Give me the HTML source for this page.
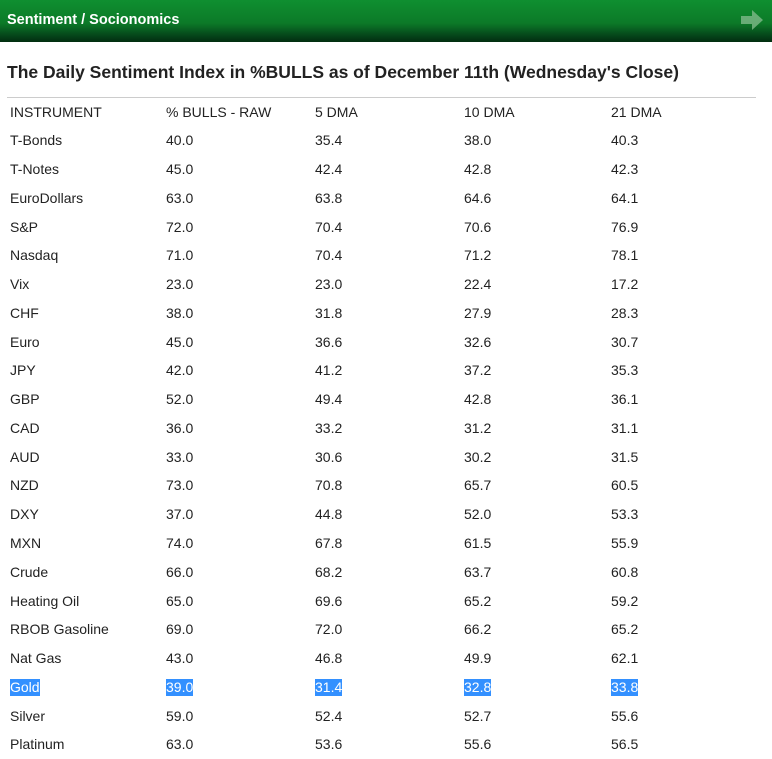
<!DOCTYPE html>
<html><head><meta charset="utf-8"><style>
body{margin:0;width:772px;height:759px;background:#fff;font-family:"Liberation Sans",Arial,sans-serif;overflow:hidden;position:relative;color:#222}
.hdr{position:absolute;left:0;top:0;width:772px;height:42px;background:linear-gradient(#0f8f30 0%,#0c7a28 55%,#05451a 85%,#022d10 100%)}
.hdr span{position:absolute;left:7px;top:12px;color:#fff;font-weight:bold;font-size:14.5px}
.arrow{position:absolute;left:741px;top:10px;width:22px;height:20px}
h1{position:absolute;left:7px;top:62px;margin:0;font-size:17.5px;font-weight:bold;color:#222;white-space:nowrap}
.rule{position:absolute;left:7px;top:97px;width:749px;height:1px;background:#ccc}
.tbl{position:absolute;left:0;top:97.5px;width:772px}
.row{height:28.77px;line-height:28.77px;font-size:14px;position:relative}
.row span{position:absolute;top:0}
.c0{left:10px}.c1{left:166px}.c2{left:315px}.c3{left:464px}.c4{left:611px}
.sel span{background:#3390ff;color:#fff;line-height:17px;top:6px}
</style></head><body>
<div class="hdr"><span>Sentiment / Socionomics</span>
<svg class="arrow" viewBox="0 0 22 20"><polygon points="0,6 11,6 11,0 22,10 11,20 11,14 0,14" fill="#7fb98a" opacity="0.8"/></svg></div>
<h1>The Daily Sentiment Index in %BULLS as of December 11th (Wednesday's Close)</h1>
<div class="rule"></div>
<div class="tbl" id="tbl"></div>
<script>
const headers=["INSTRUMENT","% BULLS - RAW","5 DMA","10 DMA","21 DMA"];
const instruments=["T-Bonds","T-Notes","EuroDollars","S&P","Nasdaq","Vix","CHF","Euro","JPY","GBP","CAD","AUD","NZD","DXY","MXN","Crude","Heating Oil","RBOB Gasoline","Nat Gas","Gold","Silver","Platinum"];
const raw=[40.0,45.0,63.0,72.0,71.0,23.0,38.0,45.0,42.0,52.0,36.0,33.0,73.0,37.0,74.0,66.0,65.0,69.0,43.0,39.0,59.0,63.0];
const dma5=[35.4,42.4,63.8,70.4,70.4,23.0,31.8,36.6,41.2,49.4,33.2,30.6,70.8,44.8,67.8,68.2,69.6,72.0,46.8,31.4,52.4,53.6];
const dma10=[38.0,42.8,64.6,70.6,71.2,22.4,27.9,32.6,37.2,42.8,31.2,30.2,65.7,52.0,61.5,63.7,65.2,66.2,49.9,32.8,52.7,55.6];
const dma21=[40.3,42.3,64.1,76.9,78.1,17.2,28.3,30.7,35.3,36.1,31.1,31.5,60.5,53.3,55.9,60.8,59.2,65.2,62.1,33.8,55.6,56.5];
const tbl=document.getElementById('tbl');
function addRow(cells,name,sel){
  const r=document.createElement('div');
  r.className='row'+(sel?' sel':'');
  
  
  cells.forEach((t,i)=>{
    const s=document.createElement('span');
    s.className='c'+i;
    s.textContent=t;
    
    
    r.appendChild(s);
  });
  tbl.appendChild(r);
}
addRow(headers,'header-row',false);
instruments.forEach((n,i)=>{
  addRow([n,raw[i].toFixed(1),dma5[i].toFixed(1),dma10[i].toFixed(1),dma21[i].toFixed(1)],'row-'+n.toLowerCase().replace(/[^a-z0-9]+/g,'-'),n==='Gold');
});
</script>
</body></html>
